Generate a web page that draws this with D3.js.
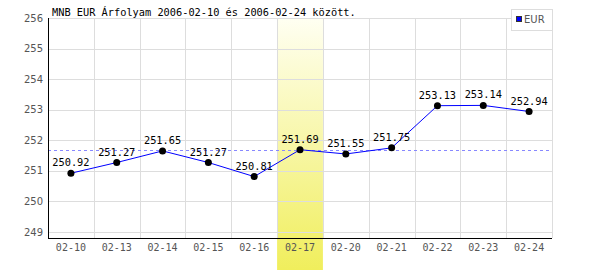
<!DOCTYPE html>
<html><head><meta charset="utf-8">
<script src="https://cdn.jsdelivr.net/npm/d3@7"></script>
<style>body{margin:0;background:#fff}svg{display:block}</style>
</head><body><svg id="c" width="600" height="270"></svg>
<script>
const dates = ["02-10","02-13","02-14","02-15","02-16","02-17","02-20","02-21","02-22","02-23","02-24"];
const rates = [250.92,251.27,251.65,251.27,250.81,251.69,251.55,251.75,253.13,253.14,252.94];
const yTicks = [249,250,251,252,253,254,255,256];
const highlightDate = "02-17";
const refValue = 251.69;
const title = "MNB EUR Árfolyam 2006-02-10 és 2006-02-24 között.";
const seriesName = "EUR";

const svg = d3.select("#c");
const L = 48, R = 552, T = 18, B = 238;
const x = d3.scaleBand().domain(dates).range([L, R]);
const y = d3.scaleLinear().domain([248.8, 256]).range([B, T]);

const defs = svg.append("defs");
const g = defs.append("linearGradient").attr("id","hl").attr("x1",0).attr("y1",0).attr("x2",0).attr("y2",1);
g.append("stop").attr("offset","0%").attr("stop-color","#fffff2");
g.append("stop").attr("offset","100%").attr("stop-color","#f0ee5c");

// highlight band
svg.append("rect").attr("x", x(highlightDate)).attr("y", T)
  .attr("width", x.bandwidth()).attr("height", 270 - T).attr("fill","url(#hl)");

// grid
svg.append("g").selectAll("line").data(yTicks).join("line")
  .attr("x1", L).attr("x2", R).attr("y1", d=>Math.round(y(d))+0.5).attr("y2", d=>Math.round(y(d))+0.5)
  .attr("stroke","#dddddd");
svg.append("g").selectAll("line").data(dates.slice(1).concat(["end"])).join("line")
  .attr("x1", d=> Math.round(d==="end"? R : x(d))+0.5).attr("x2", d=> Math.round(d==="end"? R : x(d))+0.5)
  .attr("y1", T).attr("y2", B).attr("stroke","#dddddd");

// reference dashed line
svg.append("line").attr("x1", L).attr("x2", R)
  .attr("y1", Math.round(y(refValue))+0.5).attr("y2", Math.round(y(refValue))+0.5)
  .attr("stroke","#8888ff").attr("stroke-dasharray","3,3");

// axes
const yAxis = svg.append("g").attr("transform",`translate(${L},0)`)
  .call(d3.axisLeft(y).tickValues(yTicks).tickSize(0).tickPadding(5));
yAxis.select(".domain").attr("stroke","#000").attr("d",`M0.5,${T}V${B}`);
yAxis.selectAll("text").attr("font-family","DejaVu Sans").attr("font-size","10px").attr("fill","#555");

const xAxis = svg.append("g").attr("transform",`translate(0,${B})`)
  .call(d3.axisBottom(x).tickSize(0).tickPadding(6));
xAxis.select(".domain").attr("stroke","#000").attr("d",`M${L},0.5H${R}`);
xAxis.selectAll("text").attr("font-family","DejaVu Sans Mono").attr("font-size","10px").attr("fill","#555");

// line
const cx = d => x(d) + x.bandwidth()/2;
svg.append("path").datum(rates)
  .attr("d", d3.line().x((d,i)=>cx(dates[i])).y(d=>y(d)))
  .attr("fill","none").attr("stroke","#0000ff").attr("stroke-width",1);

svg.append("g").selectAll("circle").data(rates).join("circle")
  .attr("cx",(d,i)=>cx(dates[i])).attr("cy",d=>y(d)).attr("r",3.5).attr("fill","#000");

svg.append("g").selectAll("text").data(rates).join("text")
  .attr("x",(d,i)=>cx(dates[i])).attr("y",d=>y(d)-7)
  .attr("text-anchor","middle").attr("font-family","DejaVu Sans Mono").attr("font-size","10.3px")
  .attr("fill","#000").text(d=>d.toFixed(2));

// title
svg.append("text").attr("x",52).attr("y",16).attr("font-family","DejaVu Sans Mono")
  .attr("font-size","10.3px").attr("fill","#000").text(title);

// legend
svg.append("rect").attr("x",511.5).attr("y",9.5).attr("width",41).attr("height",21)
  .attr("fill","#fff").attr("stroke","#dddddd");
svg.append("rect").attr("x",516.5).attr("y",16.5).attr("width",5).attr("height",5)
  .attr("fill","#0000ff").attr("stroke","#333");
svg.append("text").attr("x",524).attr("y",23).attr("font-family","DejaVu Sans")
  .attr("font-size","10px").attr("fill","#555").text(seriesName);
</script></body></html>
